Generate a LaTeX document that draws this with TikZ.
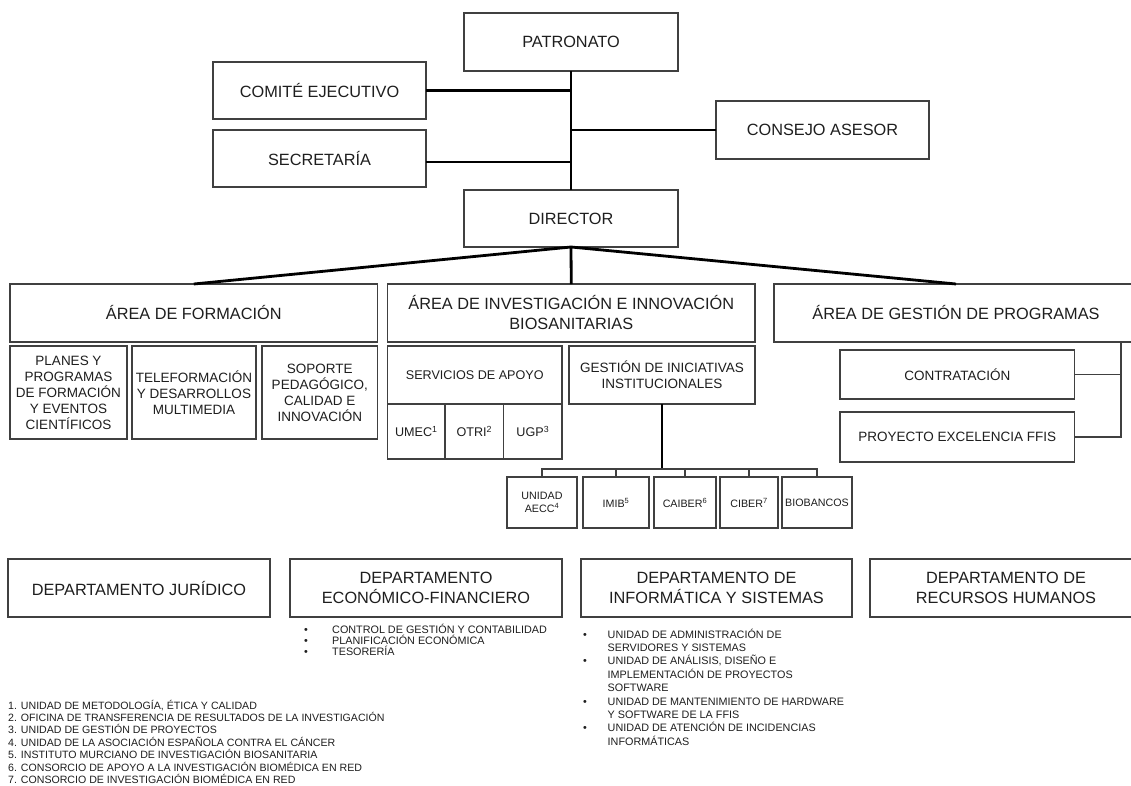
\documentclass[tikz,border=0pt]{standalone}
\usepackage{fontspec}
\setmainfont{Liberation Sans}
\definecolor{boxgray}{HTML}{404040}
\definecolor{inkgray}{HTML}{1E1E1E}
\newcommand\fbig{\fontsize{16.3}{20}\selectfont}
\newcommand\fmid{\fontsize{13.5}{16}\selectfont}
\newcommand\fserv{\fontsize{12.6}{15}\selectfont}
\newcommand\fsmall{\fontsize{10.7}{13}\selectfont}
\newcommand\flist{\fontsize{10.8}{13.4}\selectfont}
\newcommand\ffoot{\fontsize{10.6}{12.6}\selectfont}

\begin{document}
\begin{tikzpicture}[x=1pt,y=-1pt,
    box/.style={draw=boxgray,line width=1.2pt,inner sep=0pt,outer sep=0pt,align=center,text=inkgray},
    bigbox/.style={box,font=\fbig},
    midbox/.style={box,font=\fmid},
    servbox/.style={box,font=\fserv},
    smallbox/.style={box,font=\fsmall,minimum height=51},
    conn/.style={line width=2.8pt},
    thinconn/.style={draw=boxgray,line width=1.1pt},
    listline/.style={anchor=base west,inner sep=0pt,text=inkgray},
    bullet/.style={anchor=base,inner sep=0pt,text=inkgray}]
    \useasboundingbox (0,0) rectangle (1131,785);
    \fill[white] (0,0) rectangle (1131,785);
    \clip (0,0) rectangle (1131,785);

    % gobierno
    \node[bigbox,minimum width=214,minimum height=58] (patr) at (571,42) {PATRONATO};
    \node[bigbox,minimum width=213,minimum height=57] (comite) at (319.5,90.5) {COMITÉ EJECUTIVO};
    \node[bigbox,minimum width=213,minimum height=57] (secre) at (319.5,158.5) {SECRETARÍA};
    \node[bigbox,minimum width=213,minimum height=58] (consejo) at (822.5,130) {CONSEJO ASESOR};
    \node[bigbox,minimum width=214,minimum height=57] (dir) at (571,218.5) {DIRECTOR};
    \draw[conn] (patr.south) -- (dir.north);
    \draw[conn] (comite.east) -- (comite.east -| patr.south);
    \draw[conn] ([yshift=-3.5pt]secre.east) -- ([yshift=-3.5pt]secre.east -| patr.south);
    \draw[conn] (consejo.west) -- (consejo.west -| patr.south);

    % areas
    \node[bigbox,minimum width=367.5,minimum height=58] (aform) at (193.75,313) {ÁREA DE FORMACIÓN};
    \node[bigbox,minimum width=367.5,minimum height=58] (ainv) at (571.25,313) {ÁREA DE INVESTIGACIÓN E INNOVACIÓN\\BIOSANITARIAS};
    \node[bigbox,minimum width=364,minimum height=58] (agest) at (956,313) {ÁREA DE GESTIÓN DE PROGRAMAS};
    \draw[conn] (dir.south) -- (aform.north);
    \draw[conn] (dir.south) -- (ainv.north);
    \draw[conn] (dir.south) -- (agest.north);

    \node[midbox,minimum width=117,minimum height=93] (planes) at (68.5,392.5) {PLANES Y\\PROGRAMAS\\DE FORMACIÓN\\Y EVENTOS\\CIENTÍFICOS};
    \node[midbox,minimum width=124,minimum height=93] (tele) at (194,392.5) {TELEFORMACIÓN\\Y DESARROLLOS\\MULTIMEDIA};
    \node[midbox,minimum width=115.5,minimum height=93] (soporte) at (319.75,392.5) {SOPORTE\\PEDAGÓGICO,\\CALIDAD E\\INNOVACIÓN};

    \node[servbox,minimum width=174.5,minimum height=58] (serv) at (474.75,375) {SERVICIOS DE APOYO};
    \node[servbox,minimum width=57.5,minimum height=55] (umec) at (416.25,431.5) {UMEC\textsuperscript{1}};
    \node[servbox,minimum width=58.6,minimum height=55] (otri) at (474.3,431.5) {OTRI\textsuperscript{2}};
    \node[servbox,minimum width=58.4,minimum height=55] (ugp) at (532.8,431.5) {UGP\textsuperscript{3}};
    \node[midbox,minimum width=186,minimum height=58] (inic) at (662,375) {GESTIÓN DE INICIATIVAS\\INSTITUCIONALES};

    \node[smallbox,minimum width=70] (aecc) at (542,502.5) {UNIDAD\\AECC\textsuperscript{4}};
    \node[smallbox,minimum width=66] (imib) at (616,502.5) {IMIB\textsuperscript{5}};
    \node[smallbox,minimum width=62] (caiber) at (685,502.5) {CAIBER\textsuperscript{6}};
    \node[smallbox,minimum width=58] (ciber) at (749,502.5) {CIBER\textsuperscript{7}};
    \node[smallbox,minimum width=70] (biob) at (817,502.5) {BIOBANCOS};
    \coordinate (ibus) at (662,469);
    \draw[conn] (inic.south) -- (ibus);
    \foreach \n in {aecc,imib,caiber,ciber,biob}{
        \draw[thinconn] (\n.north) |- (ibus);
    }

    \node[midbox,minimum width=234.5,minimum height=49] (contr) at (957.25,374.5) {CONTRATACIÓN};
    \node[midbox,minimum width=234.5,minimum height=50] (proy) at (957.25,437) {PROYECTO EXCELENCIA FFIS};
    \coordinate (gbus) at ([xshift=165pt]agest.south);
    \draw[thinconn] (contr.east) -| (gbus);
    \draw[thinconn] (proy.east) -| (gbus);

    % departamentos
    \node[bigbox,minimum width=262,minimum height=58] (djur) at (139,588) {DEPARTAMENTO JURÍDICO};
    \node[bigbox,minimum width=272,minimum height=58] (deco) at (426,588) {DEPARTAMENTO\\ECONÓMICO-FINANCIERO};
    \node[bigbox,minimum width=271,minimum height=58] (dinf) at (716.5,588) {DEPARTAMENTO DE\\INFORMÁTICA Y SISTEMAS};
    \node[bigbox,minimum width=272,minimum height=58] (drrhh) at (1006,588) {DEPARTAMENTO DE\\RECURSOS HUMANOS};

    \foreach \t [count=\i from 0] in {CONTROL DE GESTIÓN Y CONTABILIDAD,PLANIFICACIÓN ECONÓMICA,TESORERÍA}{
        \node[listline,font=\flist] (eco\i) at (332,{633+11*\i}) {\t};
        \node[bullet,font=\flist] (ecob\i) at (306,{633+11*\i}) {\textbullet};
    }
    \foreach \t [count=\i from 0] in {UNIDAD DE ADMINISTRACIÓN DE,SERVIDORES Y SISTEMAS,{UNIDAD DE ANÁLISIS, DISEÑO E},IMPLEMENTACIÓN DE PROYECTOS,SOFTWARE,UNIDAD DE MANTENIMIENTO DE HARDWARE,Y SOFTWARE DE LA FFIS,UNIDAD DE ATENCIÓN DE INCIDENCIAS,INFORMÁTICAS}{
        \node[listline,font=\flist] (inf\i) at (607.5,{638+13.4*\i}) {\t};
    }
    \foreach \i in {0,2,5,7}{
        \node[bullet,font=\flist] (infb\i) at (585,{638+13.4*\i}) {\textbullet};
    }

    % notas
    \foreach \t [count=\i from 0] in {{1. UNIDAD DE METODOLOGÍA, ÉTICA Y CALIDAD},2. OFICINA DE TRANSFERENCIA DE RESULTADOS DE LA INVESTIGACIÓN,3. UNIDAD DE GESTIÓN DE PROYECTOS,4. UNIDAD DE LA ASOCIACIÓN ESPAÑOLA CONTRA EL CÁNCER,5. INSTITUTO MURCIANO DE INVESTIGACIÓN BIOSANITARIA,6. CONSORCIO DE APOYO A LA INVESTIGACIÓN BIOMÉDICA EN RED,7. CONSORCIO DE INVESTIGACIÓN BIOMÉDICA EN RED}{
        \node[listline,font=\ffoot] (nota\i) at (8,{709+12.4*\i}) {\t};
    }
\end{tikzpicture}
\end{document}
